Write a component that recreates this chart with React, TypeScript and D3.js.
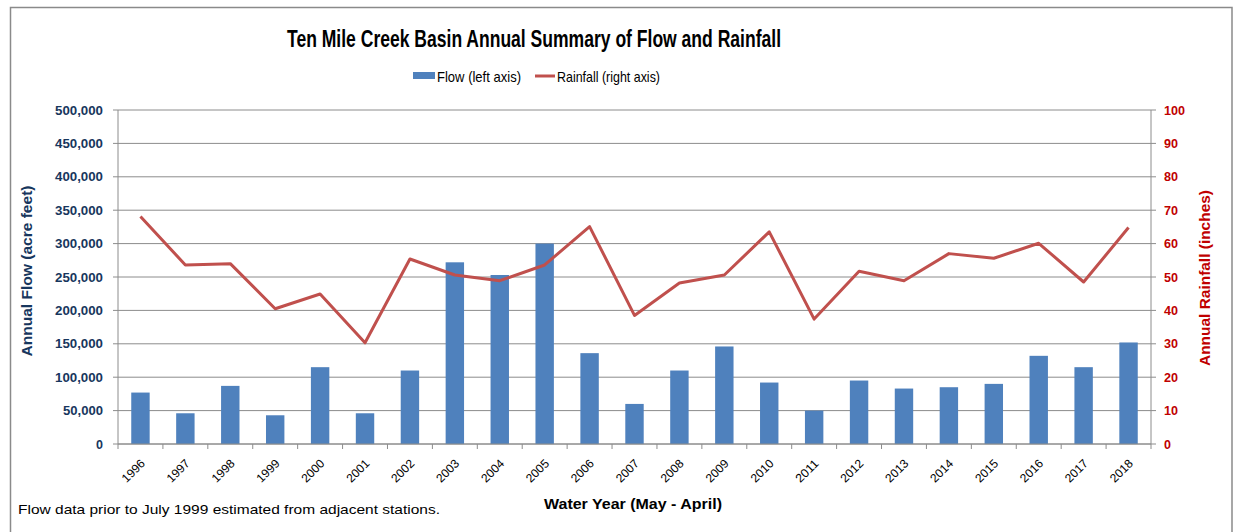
import React from "react";
import * as d3 from "d3";

const years = ["1996","1997","1998","1999","2000","2001","2002","2003","2004","2005","2006","2007","2008","2009","2010","2011","2012","2013","2014","2015","2016","2017","2018"];
const flow = [77000,46000,87000,43000,115000,46000,110000,272000,253000,300000,136000,60000,110000,146000,92000,50000,95000,83000,85000,90000,132000,115000,152000];
const rainfall = [68.1,53.6,54.0,40.5,44.9,30.3,55.4,50.6,48.9,53.6,65.1,38.5,48.2,50.6,63.5,37.4,51.7,48.9,57.0,55.6,60.1,48.5,64.8];
const leftTicks = [0,50000,100000,150000,200000,250000,300000,350000,400000,450000,500000];
const rightTicks = [0,10,20,30,40,50,60,70,80,90,100];

const W = 1233, H = 532;
const m = { left: 118, right: 1151, top: 110, bottom: 444 };
const FONT = "'Liberation Sans', Arial, sans-serif";

export default function App() {
  const x = d3.scaleBand<string>().domain(years).range([m.left, m.right]).paddingInner(0.59).paddingOuter(0.295);
  const xb = d3.scaleBand<string>().domain(years).range([m.left, m.right]);
  const yL = d3.scaleLinear().domain([0, 500000]).range([m.bottom, m.top]);
  const yR = d3.scaleLinear().domain([0, 100]).range([m.bottom, m.top]);
  const line = d3.line<number>().x((_, i) => xb(years[i])! + xb.bandwidth() / 2).y(d => yR(d));
  const fmt = d3.format(",");
  const grid = "#8c8c8c";
  const lw = (s: string) => (s.length === 7 ? 48 : s.length === 6 ? 40 : undefined);
  const rw = (s: string) => (s.length === 3 ? 21 : s.length === 2 ? 14 : undefined);
  return (
    <svg width={W} height={H} style={{ position: "absolute", left: 0, top: 0, display: "block" }}>
      <rect x={0} y={0} width={W} height={H} fill="#fff" />
      <rect x={10.5} y={7.5} width={1221.5} height={540} fill="none" stroke="#8a8a8a" strokeWidth={1.5} />
      <text x={534} y={47} textAnchor="middle" fontFamily={FONT} fontWeight="bold" fontSize={24} textLength={494} lengthAdjust="spacingAndGlyphs" fill="#000">Ten Mile Creek Basin Annual Summary of Flow and Rainfall</text>
      {/* legend */}
      <rect x={413} y={72} width={22} height={7} fill="#4f81bd" />
      <text x={437} y={82} fontFamily={FONT} fontSize={14.5} textLength={84} lengthAdjust="spacingAndGlyphs" fill="#000">Flow (left axis)</text>
      <line x1={535} x2={555} y1={76} y2={76} stroke="#c0504d" strokeWidth={3} />
      <text x={557} y={82} fontFamily={FONT} fontSize={14.5} textLength={103} lengthAdjust="spacingAndGlyphs" fill="#000">Rainfall (right axis)</text>
      {/* grid */}
      {leftTicks.map(t => {
        const s = fmt(t);
        return (
          <g key={t}>
            <line x1={m.left - 5} x2={m.right} y1={yL(t)} y2={yL(t)} stroke={grid} strokeWidth={1} />
            <text x={103} y={yL(t) + 4.5} textAnchor="end" fontFamily={FONT} fontWeight="bold" fontSize={12.5} textLength={lw(s)} lengthAdjust="spacingAndGlyphs" fill="#17365d">{s}</text>
          </g>
        );
      })}
      {rightTicks.map(t => {
        const s = String(t);
        return (
          <g key={t}>
            <line x1={m.right} x2={m.right + 5} y1={yR(t)} y2={yR(t)} stroke={grid} strokeWidth={1} />
            <text x={1164} y={yR(t) + 4.5} textAnchor="start" fontFamily={FONT} fontWeight="bold" fontSize={12.5} textLength={rw(s)} lengthAdjust="spacingAndGlyphs" fill="#c00000">{s}</text>
          </g>
        );
      })}
      <line x1={m.left} x2={m.left} y1={m.top} y2={m.bottom} stroke={grid} strokeWidth={1} />
      <line x1={m.right} x2={m.right} y1={m.top} y2={m.bottom + 5} stroke={grid} strokeWidth={1} />
      {/* x ticks */}
      {years.map(yr => (
        <line key={"t" + yr} x1={xb(yr)!} x2={xb(yr)!} y1={m.bottom} y2={m.bottom + 5} stroke={grid} strokeWidth={1} />
      ))}
      {/* bars */}
      {years.map((yr, i) => (
        <rect key={"b" + yr} x={x(yr)!} y={yL(flow[i])} width={x.bandwidth()} height={yL(0) - yL(flow[i])} fill="#4f81bd" />
      ))}
      <line x1={m.left} x2={m.right} y1={m.bottom} y2={m.bottom} stroke={grid} strokeWidth={1} />
      <path d={line(rainfall)!} fill="none" stroke="#c0504d" strokeWidth={3} strokeLinejoin="round" />
      {/* x labels */}
      {years.map(yr => {
        const cx = xb(yr)! + xb.bandwidth() / 2 + 3;
        const cy = m.bottom + 18;
        return (
          <text key={"l" + yr} x={cx} y={cy} transform={`rotate(-45 ${cx} ${cy})`} textAnchor="end" dominantBaseline="middle" fontFamily={FONT} fontSize={12} textLength={27} lengthAdjust="spacingAndGlyphs" fill="#000">{yr}</text>
        );
      })}
      <text x={633} y={509} textAnchor="middle" fontFamily={FONT} fontWeight="bold" fontSize={15.5} textLength={178} lengthAdjust="spacingAndGlyphs" fill="#000">Water Year (May - April)</text>
      <text x={18} y={514} fontFamily={FONT} fontSize={13.5} textLength={422} lengthAdjust="spacingAndGlyphs" fill="#000">Flow data prior to July 1999  estimated from adjacent stations.</text>
      <text transform={`translate(32 271) rotate(-90)`} textAnchor="middle" fontFamily={FONT} fontWeight="bold" fontSize={15.5} textLength={171} lengthAdjust="spacingAndGlyphs" fill="#17365d">Annual Flow (acre feet)</text>
      <text transform={`translate(1210 278) rotate(-90)`} textAnchor="middle" fontFamily={FONT} fontWeight="bold" fontSize={15.5} textLength={176} lengthAdjust="spacingAndGlyphs" fill="#c00000">Annual Rainfall (inches)</text>
    </svg>
  );
}
